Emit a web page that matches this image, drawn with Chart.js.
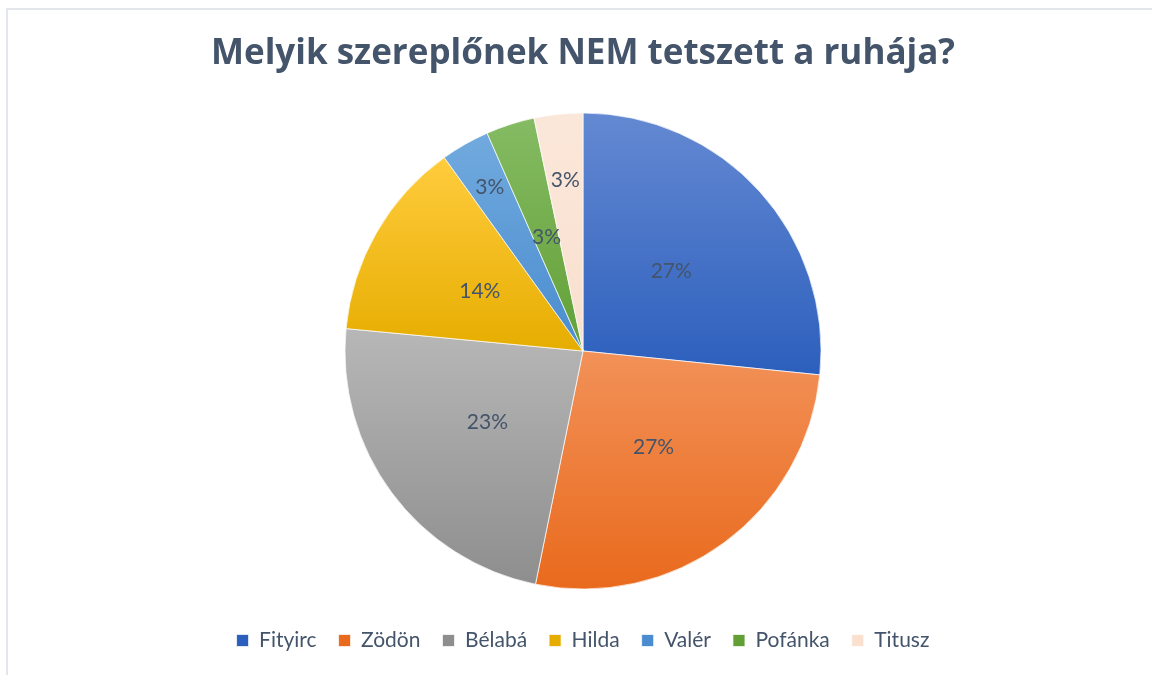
<!DOCTYPE html>
<html>
<head>
<meta charset="utf-8">
<script src="https://cdn.jsdelivr.net/npm/chart.js@4/dist/chart.umd.min.js"></script>
<style>
  html, body { margin: 0; padding: 0; background: #fff; overflow: hidden; }
  #frame { position: absolute; left: 6px; top: 8px; width: 1160px; height: 680px; border-left: 2px solid #e3e6ea; border-top: 2px solid #e3e6ea; }
  #wrap { position: absolute; left: 0; top: 0; width: 1152px; height: 675px; }
</style>
</head>
<body>
<div id="frame"></div>
<div id="wrap"><canvas id="myChart"></canvas></div>
<script>
  // adatok
  const szereplok = ['Fityirc', 'Zödön', 'Bélabá', 'Hilda', 'Valér', 'Pofánka', 'Titusz'];
  const szazalekok = [26.6, 26.6, 23.3, 13.6, 3.3, 3.3, 3.3];

  // színek: felül világosabb, alul sötétebb
  const felsoSzin = ['#6489d2', '#f29158', '#b7b7b7', '#ffcc3d', '#71aade', '#85bb63', '#fbe7d9'];
  const alsoSzin = ['#2c5fbd', '#e96a1d', '#8e8e8e', '#e6ad00', '#4a8ccf', '#62a036', '#f9e0cf'];
  // címkék távolsága a középponttól (sugár arányában)
  const cimkeTav = [0.5, 0.5, 0.5, 0.5, 0.79, 0.5, 0.72];

  function szeletGradiens(context) {
    const chart = context.chart;
    const area = chart.chartArea;
    const i = context.dataIndex;
    if (!area) return alsoSzin[i];
    const cx = (area.left + area.right) / 2;
    const cy = (area.top + area.bottom) / 2;
    const r = 238;
    const osszes = szazalekok.reduce((a, b) => a + b, 0);
    let elotte = 0;
    for (let k = 0; k < i; k++) elotte += szazalekok[k];
    const a0 = -Math.PI / 2 + elotte / osszes * 2 * Math.PI;
    const a1 = a0 + szazalekok[i] / osszes * 2 * Math.PI;
    const ys = [cy, cy + r * Math.sin(a0), cy + r * Math.sin(a1)];
    for (let t = a0; t <= a1; t += 0.01) ys.push(cy + r * Math.sin(t));
    const y0 = Math.min(...ys), y1 = Math.max(...ys);
    const g = chart.ctx.createLinearGradient(0, y0, 0, y1);
    g.addColorStop(0, felsoSzin[i]);
    g.addColorStop(1, alsoSzin[i]);
    return g;
  }

  const szazalekCimkek = {
    id: 'szazalekCimkek',
    afterDatasetsDraw(chart) {
      const ctx = chart.ctx;
      const meta = chart.getDatasetMeta(0);
      const osszes = szazalekok.reduce((a, b) => a + b, 0);
      ctx.save();
      ctx.font = '21px Lato';
      ctx.fillStyle = '#44546a';
      ctx.textAlign = 'center';
      ctx.textBaseline = 'middle';
      meta.data.forEach((arc, i) => {
        const mid = (arc.startAngle + arc.endAngle) / 2;
        const d = arc.outerRadius * cimkeTav[i];
        const x = arc.x + Math.cos(mid) * d;
        const y = arc.y + Math.sin(mid) * d;
        ctx.fillText(Math.round(szazalekok[i] / osszes * 100) + '%', x, y);
      });
      ctx.restore();
    }
  };

  const ctx = document.getElementById('myChart').getContext('2d');
  const myChart = new Chart(ctx, {
    type: 'pie',
    data: {
      labels: szereplok,
      datasets: [{
        data: szazalekok,
        backgroundColor: szeletGradiens,
        borderColor: 'rgba(255,255,255,0.7)',
        borderWidth: 1
      }]
    },
    plugins: [szazalekCimkek],
    options: {
      responsive: true,
      maintainAspectRatio: false,
      animation: false,
      radius: 238,
      layout: { padding: { top: 10, bottom: 14, left: 14, right: 0 } },
      plugins: {
        title: {
          display: true,
          text: 'Melyik szereplőnek NEM tetszett a ruhája?',
          color: '#44546a',
          font: { family: 'Open Sans', size: 35, weight: 'bold' },
          padding: { top: 23, bottom: 19 }
        },
        legend: {
          position: 'bottom',
          labels: {
            color: '#44546a',
            font: { family: 'Lato', size: 21 },
            boxWidth: 12,
            boxHeight: 12,
            padding: 22
          }
        },
        tooltip: { enabled: false }
      }
    }
  });
</script>
</body>
</html>
